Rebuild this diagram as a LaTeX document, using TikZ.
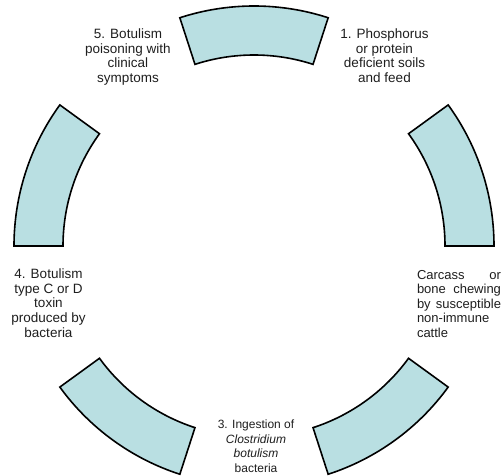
\documentclass[tikz,border=0pt]{standalone}
\usepackage{fontspec}
\setmainfont{Liberation Sans}
\definecolor{segfill}{RGB}{185,223,226}
\definecolor{txt}{RGB}{30,30,30}
\begin{document}
\begin{tikzpicture}[x=1pt,y=1pt,
  seg/.style={draw=black,line width=1.6pt,fill=segfill,line join=miter},
  lbl/.style={inner sep=0pt,outer sep=0pt,text=txt,font=\fontsize{13.5}{14.6}\selectfont},
  lblc/.style={lbl,align=center,anchor=base}]
\useasboundingbox (0,0) rectangle (502,475);
\begin{scope}[shift={(254,229)}]
  \foreach \a in {0,72,144,216,288}{
    \pgfmathsetmacro{\b}{\a+36}
    \draw[seg] (\a:240pt) arc[start angle=\a, end angle=\b, radius=240pt]
      -- (\b:191pt) arc[start angle=\b, end angle=\a, radius=191pt] -- cycle;
  }
\end{scope}
\node[lblc] (l5) at (128,392.5) {5. Botulism\\poisoning with\\clinical\\symptoms};
\node[lblc] (l1) at (384.5,392.5) {1. Phosphorus\\or protein\\deficient soils\\and feed};
\node[lblc,font=\fontsize{13.5}{14.8}\selectfont] (l4) at (48.5,137.5) {4. Botulism\\type C or D\\toxin\\produced by\\bacteria};
\node[lblc,font=\fontsize{12}{14.4}\selectfont] (l3) at (256,3) {3. Ingestion of\\{\itshape Clostridium}\\{\itshape botulism}\\bacteria};
\node[lbl,font=\fontsize{13}{14.5}\selectfont,anchor=base west,text width=84pt,align=left] (l2) at (417,196)
  {Carcass\hfill or\\bone\hfill chewing\\by\hfill susceptible\\non-immune\\cattle};
\end{tikzpicture}
\end{document}
